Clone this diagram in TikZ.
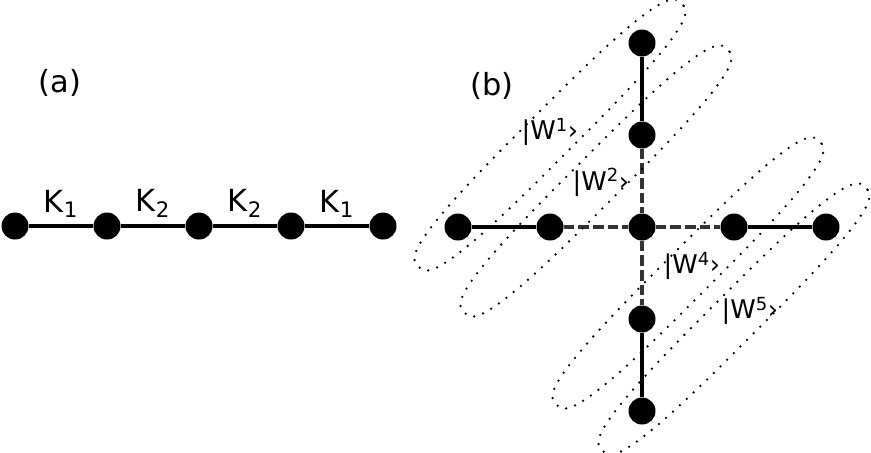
\documentclass[tikz,border=0pt]{standalone}
\usepackage{fontspec}
\setmainfont{DejaVu Sans}
\usetikzlibrary{positioning,calc}

\begin{document}
\begin{tikzpicture}[x=0.3mm,y=-0.3mm,
  node distance=27.6mm,
  site/.style={circle,fill=black,inner sep=0pt,minimum size=8.1mm},
  bond/.style={line width=3.4pt},
  weak/.style={line width=2.6pt,draw=black!80,dash pattern=on 9pt off 3.5pt},
  orb/.style={line width=2.2pt,line cap=round,dash pattern=on 0pt off 8pt},
  tag/.style={font=\fontsize{26}{30}\selectfont},
  wlbl/.style={font=\fontsize{22}{26}\selectfont,inner sep=0pt}]
\useasboundingbox (0,0) rectangle (871,452);
% (a) linear chain
\node[site] (a1) at (15,226) {};
\node[site,on grid,right=of a1] (a2) {};
\node[site,on grid,right=of a2] (a3) {};
\node[site,on grid,right=of a3] (a4) {};
\node[site,on grid,right=of a4] (a5) {};
\draw[bond] (a1) -- node[above=2pt,tag]{K\textsubscript{1}} (a2)
                 -- node[above=2pt,tag]{K\textsubscript{2}} (a3)
                 -- node[above=2pt,tag]{K\textsubscript{2}} (a4)
                 -- node[above=2pt,tag]{K\textsubscript{1}} (a5);
\node[tag] (la) at (60,83) {(a)};
% (b) cross
\node[site] (c) at (642,227) {};
\node[site,on grid,left=of c] (l2) {};
\node[site,on grid,left=of l2] (l1) {};
\node[site,on grid,right=of c] (r1) {};
\node[site,on grid,right=of r1] (r2) {};
\node[site,on grid,above=of c] (t2) {};
\node[site,on grid,above=of t2] (t1) {};
\node[site,on grid,below=of c] (b1) {};
\node[site,on grid,below=of b1] (b2) {};
\draw[bond] (l1) -- (l2) (r1) -- (r2) (t1) -- (t2) (b1) -- (b2);
\draw[weak] (l2) -- (c) -- (r1) (t2) -- (c) -- (b1);
\node[tag] (lb) at (492,86) {(b)};
% orbitals (flattened ellipses)
\foreach \p/\q/\n in {l1/t1/1,l2/t2/2,b1/r1/4,b2/r2/5}{
  \coordinate (w\n) at ($(\p)!.5!(\q)$);
  \draw[orb,shift={(w\n)},rotate=45] plot[smooth cycle,domain=0.5:358,samples=144]
    ({186*sign(cos(\x))*pow(abs(cos(\x)),2/3)},{24*sign(sin(\x))*pow(abs(sin(\x)),2/3)});
}
\node[wlbl] (w1l) at (550,132) {|W\textsuperscript{1}›};
\node[wlbl] (w2l) at (601,182) {|W\textsuperscript{2}›};
\node[wlbl] (w4l) at (692,266) {|W\textsuperscript{4}›};
\node[wlbl] (w5l) at (750,311) {|W\textsuperscript{5}›};
\end{tikzpicture}
\end{document}
